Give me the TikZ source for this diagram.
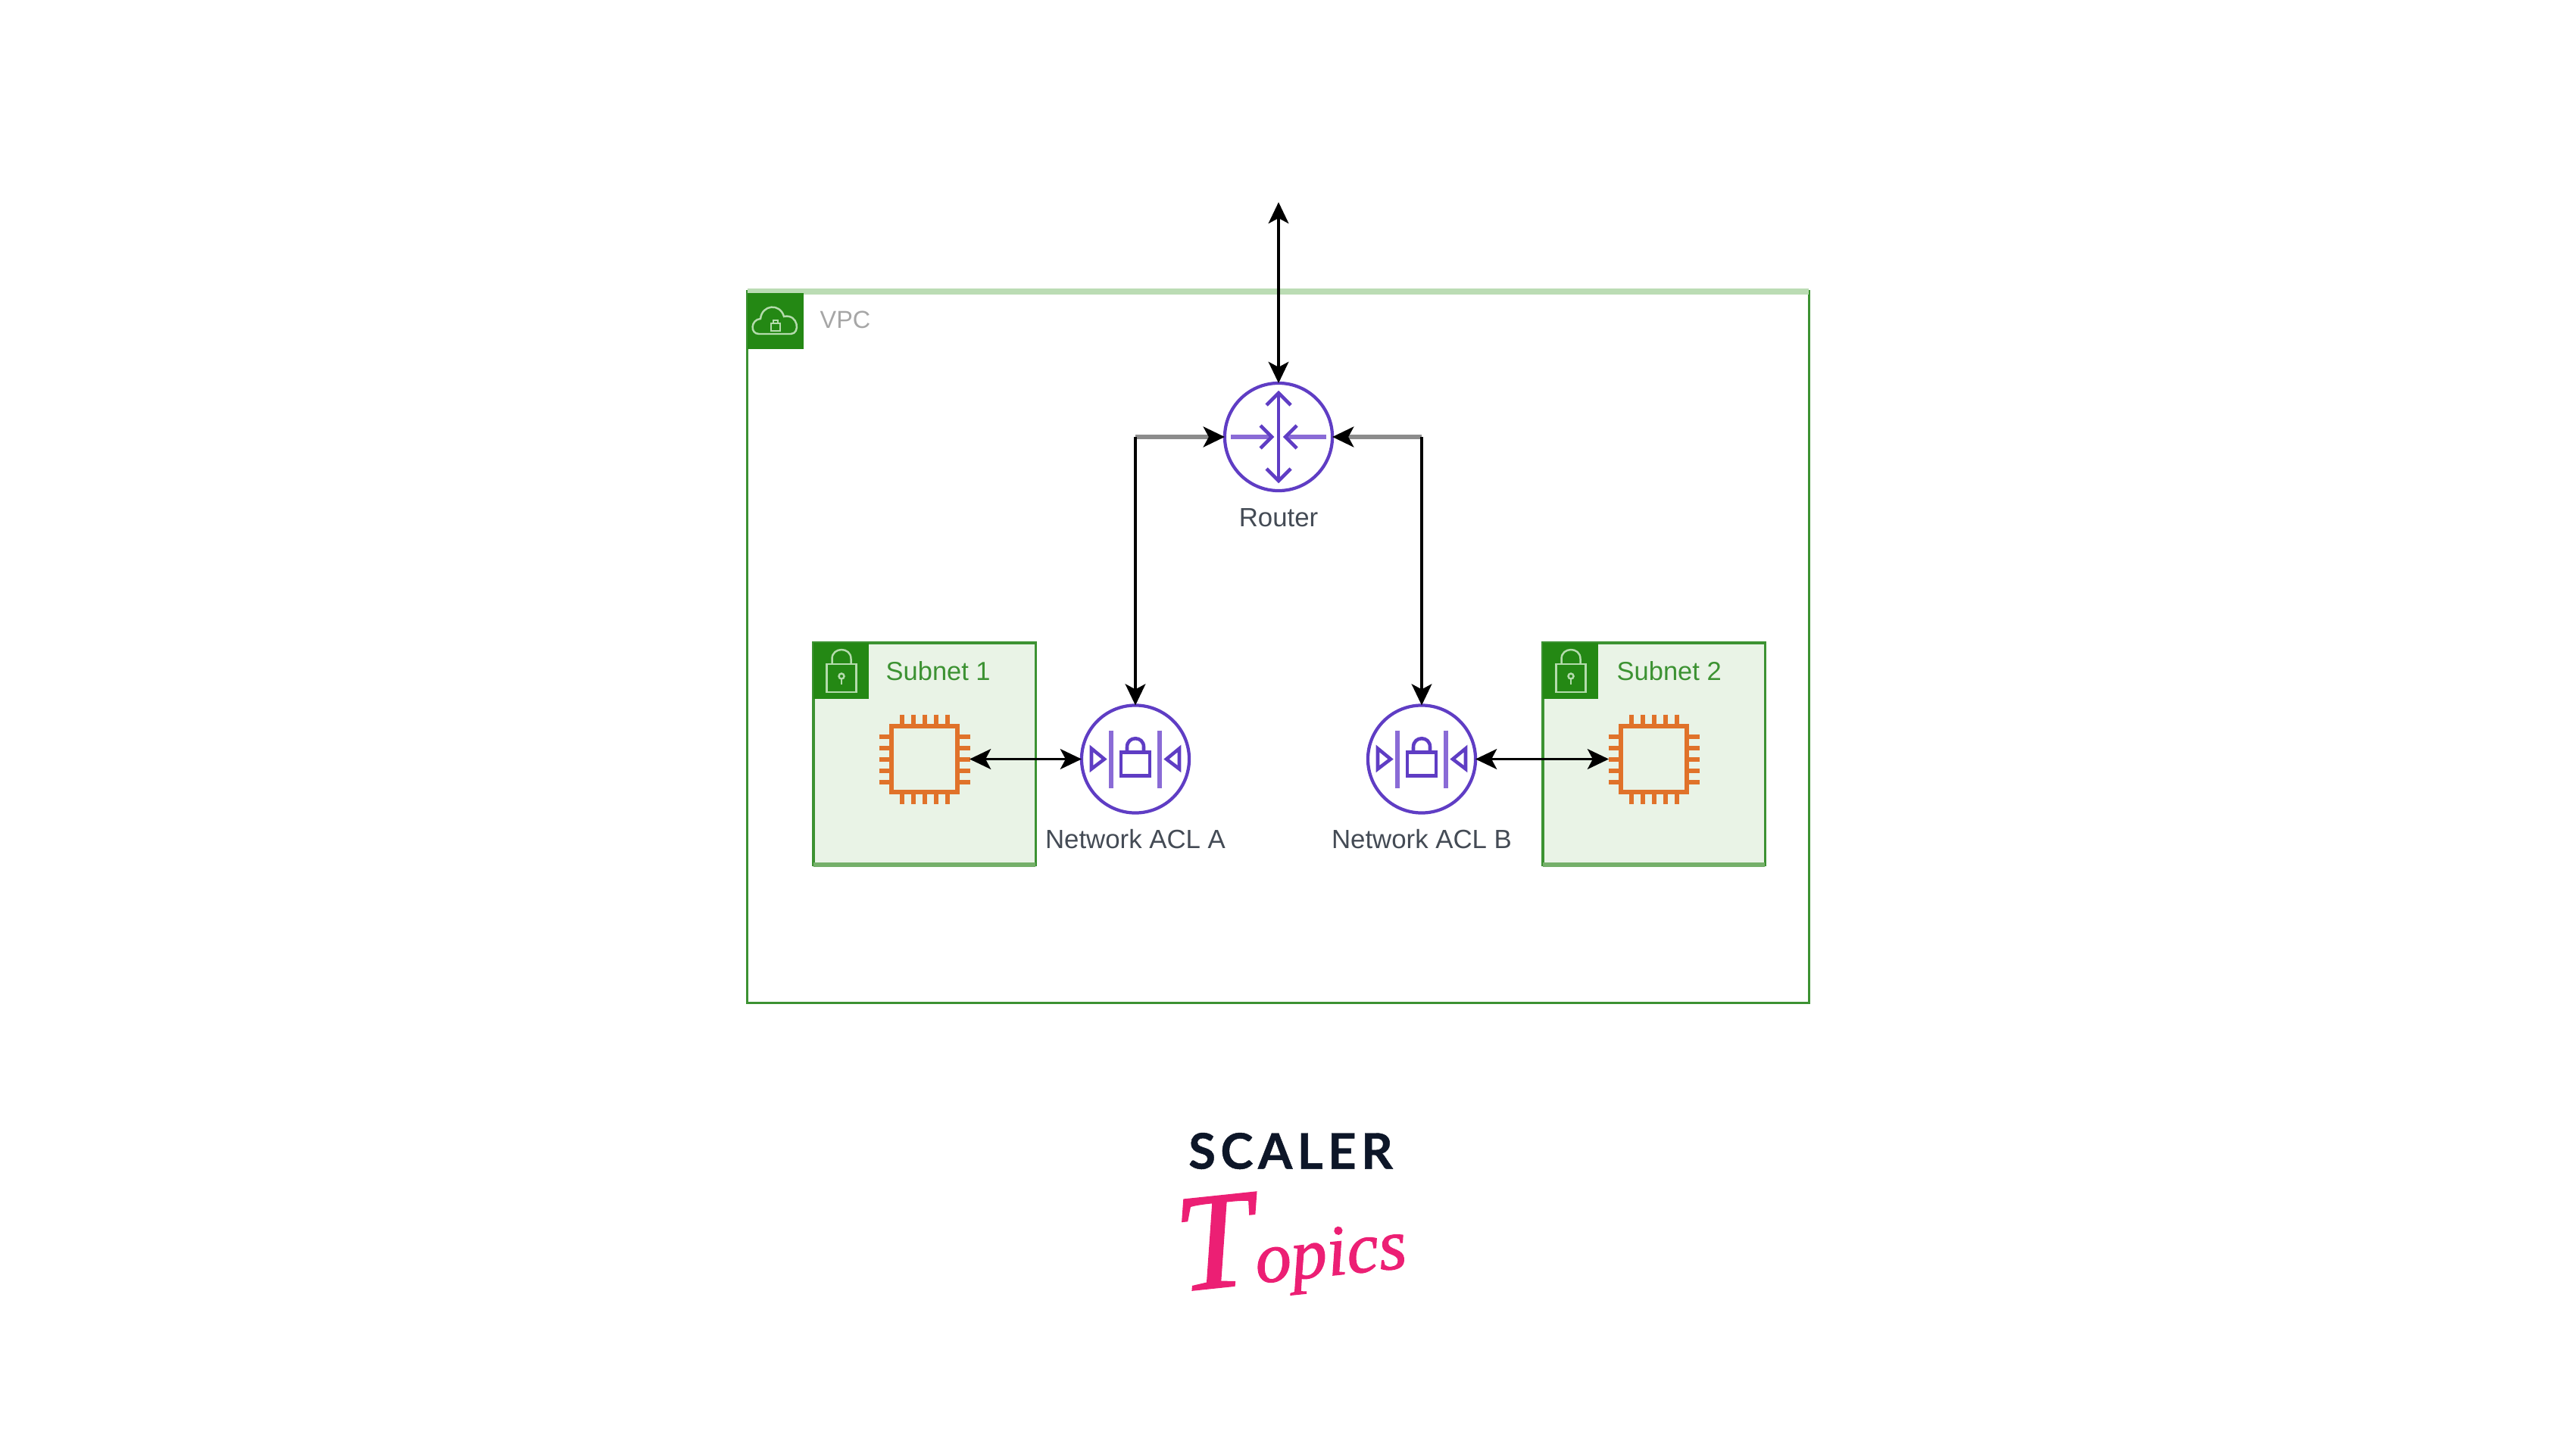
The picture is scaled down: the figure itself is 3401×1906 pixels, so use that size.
\documentclass[tikz,border=0pt]{standalone}
\usepackage{fontspec}
\setmainfont{Liberation Sans}
\newfontfamily\logofont[LetterSpace=10, FakeBold=0.7]{Lato}
\newfontfamily\topicsfont[FakeBold=1.2]{Liberation Serif}
\usetikzlibrary{arrows.meta}
\definecolor{vpcgreen}{HTML}{3C9232}
\definecolor{badgegreen}{HTML}{248814}
\definecolor{paleline}{HTML}{BBDCB4}
\definecolor{subnetfill}{HTML}{E9F3E6}
\definecolor{softline}{HTML}{75B06A}
\definecolor{badgeline}{HTML}{B4DBAC}
\definecolor{iconpurple}{HTML}{5F3DC4}
\definecolor{softpurple}{HTML}{8A6BD6}
\definecolor{chiporange}{HTML}{E0722A}
\definecolor{labelgrey}{HTML}{444B55}
\definecolor{logonavy}{HTML}{0D1628}
\definecolor{logopink}{HTML}{EC1F74}
\tikzset{
  boxline/.style={draw=vpcgreen, line width=0.9pt, outer sep=0pt, inner sep=0pt},
  vpcbox/.style={boxline, minimum width=14.01cm, minimum height=9.39cm},
  subnetbox/.style={boxline, fill=subnetfill, minimum size=2.93cm},
  badgebox/.style={fill=badgegreen, outer sep=0pt, inner sep=0pt, minimum size=.73cm},
  badgeicon/.style={draw=badgeline, line width=0.7pt},
  roundicon/.style={circle, draw=iconpurple, line width=1.2pt, fill=white, minimum size=1.42cm, inner sep=0pt, outer sep=0pt},
  iconstroke/.style={draw=iconpurple, line width=1.3pt},
  softstroke/.style={draw=softpurple, line width=1.8pt},
  chipbox/.style={draw=chiporange, line width=1.5pt, minimum size=.87cm, inner sep=0pt, outer sep=.16cm},
  chippin/.style={draw=chiporange, line width=1.7pt},
  iconlabel/.style={font=\fontsize{9.9}{12}\selectfont, text=labelgrey, inner sep=0pt},
  subnetlabel/.style={font=\fontsize{9.8}{12}\selectfont, text=vpcgreen, anchor=west, inner sep=0pt},
  vpclabel/.style={font=\fontsize{9.2}{12}\selectfont, text=black!35, anchor=west, inner sep=0pt},
  conntip/.tip={Stealth[length=8pt, width=7.6pt, inset=2pt, black]},
  conn/.style={draw=black, line width=1pt},
  connfade/.style={draw=black!45, line width=1.7pt},
  pics/padlock/.style={code={
    \draw[badgeicon] (-19,-9) rectangle (20,28);
    \draw[badgeicon] (-12,-9) -- (-12,-16) .. controls (-12,-32) and (13,-32) .. (13,-16) -- (13,-9);
    \draw[badgeicon] (0.5,7) circle (3.5);
    \draw[badgeicon] (0.5,10) -- (0.5,18);
  }},
  pics/cloudlock/.style={code={
    \draw[badgeicon] (-22,17) .. controls (-34,17) and (-33,-2) .. (-20,-3) .. controls (-18,-22) and (6,-24) .. (11,-6) .. controls (30,-10) and (33,17) .. (20,17) -- cycle;
    \draw[badgeicon] (-6,3) rectangle (6,13);
    \draw[badgeicon] (-3,3) -- (-3,-1) -- (3,-1) -- (3,3);
  }},
  pics/chippins/.style={code={
    \foreach \d in {-30,-15,0,15,30}{
      \draw[chippin] (\d,-59) -- (\d,-44);
      \draw[chippin] (\d,59) -- (\d,44);
      \draw[chippin] (-60,\d) -- (-44,\d);
      \draw[chippin] (60,\d) -- (44,\d);
    }
  }},
  pics/routerarrows/.style={code={
    \draw[iconstroke] (0,-59) -- (0,59);
    \draw[iconstroke] (-16,-42) -- (0,-58) -- (16,-42);
    \draw[iconstroke] (-16,42) -- (0,58) -- (16,42);
    \draw[softstroke] (-63,0) -- (-10,0);
    \draw[softstroke] (63,0) -- (10,0);
    \draw[iconstroke] (-24,-15) -- (-9,0) -- (-24,15);
    \draw[iconstroke] (24,-15) -- (9,0) -- (24,15);
  }},
  pics/aclgate/.style={code={
    \draw[softstroke] (-32,-38) -- (-32,38);
    \draw[softstroke] (32,-38) -- (32,38);
    \draw[iconstroke] (-58,-14) -- (-41,0) -- (-58,13) -- cycle;
    \draw[iconstroke] (58,-14) -- (41,0) -- (58,13) -- cycle;
    \draw[iconstroke] (-19,-9) rectangle (19,22);
    \draw[iconstroke] (-11,-9) -- (-11,-16) .. controls (-11,-31) and (11,-31) .. (11,-16) -- (11,-9);
  }},
}
\begin{document}
\begin{tikzpicture}[x=0.01cm, y=-0.01cm]
\useasboundingbox (0,0) rectangle (3401,1906);
% containers
\node[vpcbox] (vpc) at (1687.5,854.5){};
\draw[paleline, line width=2.2pt] (vpc.north west) -- (vpc.north east);
\node[badgebox] (vpcbadge) at (1024,424){};
\pic at (vpcbadge.center) {cloudlock};
\node[vpclabel] (vpclabel) at (1082,422){VPC};
\node[subnetbox] (subnet1) at (1220.5,995.5){};
\draw[softline, line width=1.5pt] (subnet1.south west) -- (subnet1.south east);
\node[badgebox] (badge1) at (1110.5,886){};
\pic at (badge1.center) {padlock};
\node[subnetlabel] (subnet1label) at (1169,886){Subnet 1};
\node[subnetbox] (subnet2) at (2183.5,995.5){};
\draw[softline, line width=1.5pt] (subnet2.south west) -- (subnet2.south east);
\node[badgebox] (badge2) at (2073.5,886){};
\pic at (badge2.center) {padlock};
\node[subnetlabel] (subnet2label) at (2134,886){Subnet 2};
% router
\node[roundicon] (router) at (1688,577){};
\pic at (router.center) {routerarrows};
\node[iconlabel] (routerlabel) at (1688,684){Router};
% network acls
\node[roundicon] (aclA) at (1499,1002.5){};
\pic at (aclA.center) {aclgate};
\node[iconlabel] (aclAlabel) at (1499,1108){Network ACL A};
\node[roundicon] (aclB) at (1877,1002.5){};
\pic at (aclB.center) {aclgate};
\node[iconlabel] (aclBlabel) at (1877,1108){Network ACL B};
% instances
\node[chipbox] (chip1) at (1220.5,1002.5){};
\pic at (chip1.center) {chippins};
\node[chipbox] (chip2) at (2183.5,1002.5){};
\pic at (chip2.center) {chippins};
% connectors
\coordinate (internet) at (1688,267);
\coordinate (elbowA) at (aclA |- router);
\coordinate (elbowB) at (aclB |- router);
\draw[conn, conntip-conntip] (internet) -- (router);
\draw[connfade, -conntip] (elbowA) -- (router);
\draw[connfade, -conntip] (elbowB) -- (router);
\draw[conn, -conntip] (elbowA) -- (aclA);
\draw[conn, -conntip] (elbowB) -- (aclB);
\draw[conn, conntip-conntip] (chip1) -- (aclA);
\draw[conn, conntip-conntip] (aclB) -- (chip2);
% logo
\node[font=\logofont\bfseries\fontsize{18.5}{20}\selectfont, text=logonavy, inner sep=0pt] (scaler) at (1704,1520){SCALER};
\node[font=\topicsfont\itshape, text=logopink, inner sep=0pt, rotate=6] (topics) at (1704,1640){\fontsize{52}{52}\selectfont T\fontsize{27}{27}\selectfont opics};
\end{tikzpicture}
\end{document}
